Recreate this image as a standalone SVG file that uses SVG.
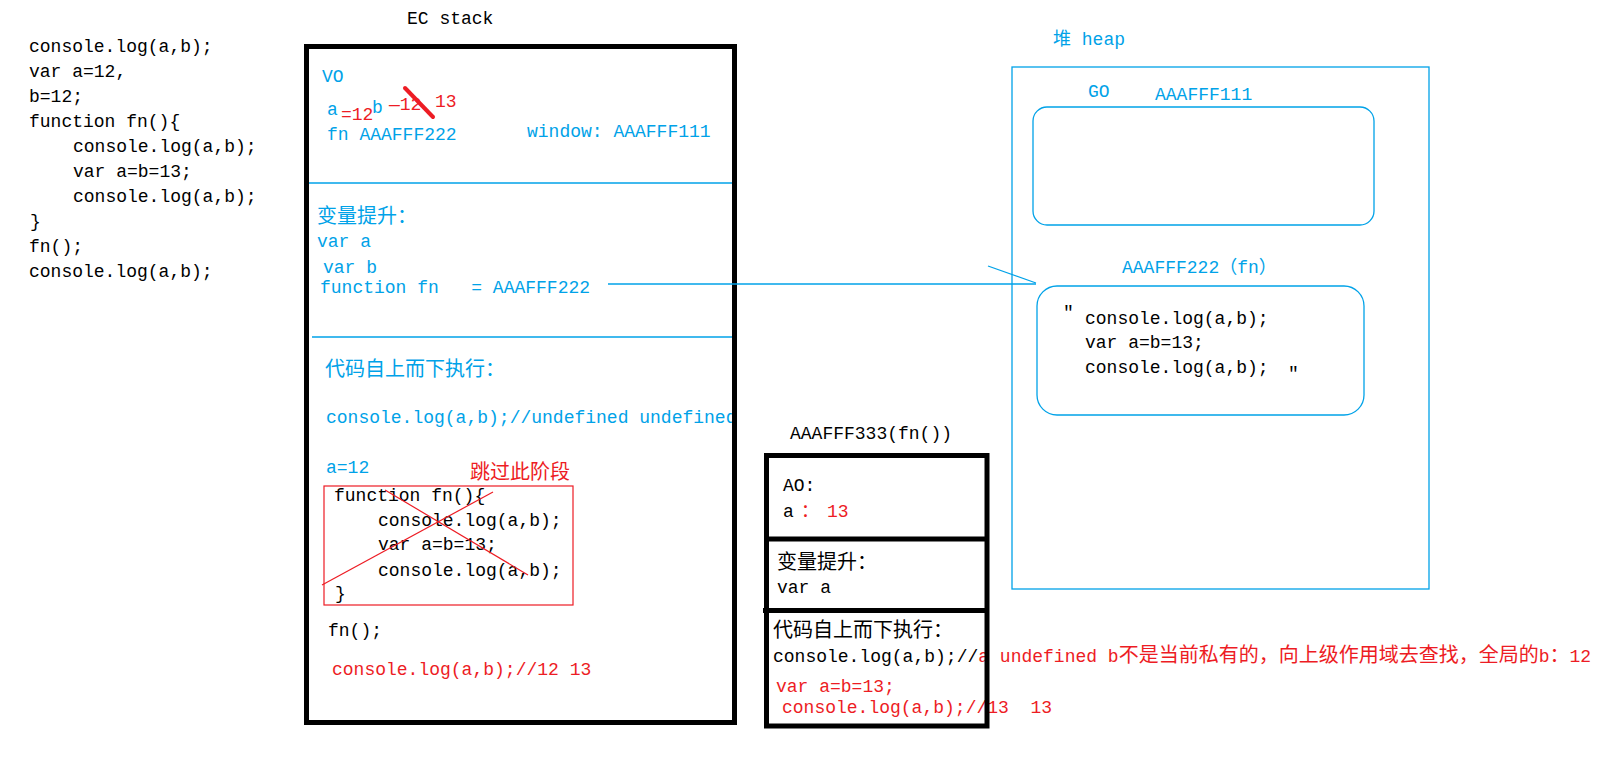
<svg xmlns="http://www.w3.org/2000/svg" width="1605" height="764" viewBox="0 0 1605 764">
<style>
.t{font-family:"Liberation Mono","Noto Sans CJK SC",monospace;font-size:18px}
.c{font-size:20px}
.c18{font-size:18px}
.b{fill:#00A2E8}
.r{fill:#ED1C24}
.k{fill:#000}
.box{fill:none;stroke:#000;stroke-width:5}
.bl{fill:none;stroke:#00A2E8;stroke-width:1.3}
.rl{fill:none;stroke:#ED1C24;stroke-width:1.2}
</style>
<rect x="0" y="0" width="1605" height="764" fill="#fff"/>

<g id="source-code" class="t k">
<text x="29" y="52">console.log(a,b);</text>
<text x="29" y="77">var a=12,</text>
<text x="29" y="102">b=12;</text>
<text x="29" y="127">function fn(){</text>
<text x="73" y="152">console.log(a,b);</text>
<text x="73" y="177">var a=b=13;</text>
<text x="73" y="202">console.log(a,b);</text>
<text x="30" y="227">}</text>
<text x="29" y="252">fn();</text>
<text x="29" y="277">console.log(a,b);</text>
</g>

<g id="ec-stack">
<text class="t k" x="407" y="24">EC stack</text>
<g id="vo-section" class="t">
<text class="b" x="322" y="82">VO</text>
<text class="b" x="327" y="115">a</text>
<text class="r" x="341" y="120">=12</text>
<text class="b" x="372" y="113">b</text>
<text class="r" x="389" y="110">—12</text>
<line x1="405" y1="88" x2="433" y2="117" stroke="#ED1C24" stroke-width="4" stroke-linecap="round"/>
<text class="r" x="435" y="107">13</text>
<text class="b" x="327" y="140">fn AAAFFF222</text>
<text class="b" x="527" y="137">window: AAAFFF111</text>
</g>
<line class="bl" x1="309" y1="183" x2="734" y2="183"/>
<g id="hoist-section" class="t b">
<text class="c" x="317" y="223">变量提升：</text>
<text x="317" y="247">var a</text>
<text x="323" y="273">var b</text>
<text x="320" y="293" xml:space="preserve">function fn   = AAAFFF222</text>
</g>
<line class="bl" x1="312" y1="337" x2="734" y2="337"/>
<g id="exec-section" class="t">
<text class="b c" x="325" y="376">代码自上而下执行：</text>
<text class="b" x="326" y="423">console.log(a,b);//undefined undefined</text>
<text class="b" x="326" y="473">a=12</text>
<text class="r c" x="470" y="479">跳过此阶段</text>
<rect class="rl" x="324" y="486" width="249" height="119"/>
<text class="k" x="334" y="501">function fn(){</text>
<text class="k" x="378" y="526">console.log(a,b);</text>
<text class="k" x="378" y="550">var a=b=13;</text>
<text class="k" x="378" y="576">console.log(a,b);</text>
<text class="k" x="335" y="599">}</text>
<line class="rl" x1="385" y1="490" x2="528" y2="575"/>
<line class="rl" x1="322" y1="585" x2="493" y2="492"/>
<text class="k" x="328" y="636">fn();</text>
<text class="r" x="332" y="675">console.log(a,b);//12 13</text>
</g>
<rect class="box" x="306.5" y="46.5" width="428" height="676"/>
</g>

<g id="ao-box">
<text class="t k" x="790" y="439">AAAFFF333(fn())</text>
<g class="t">
<text class="k" x="783" y="491">AO:</text>
<text class="k" x="783" y="517">a</text>
<text class="r" x="801" y="517">：</text>
<text class="r" x="827" y="517">13</text>
<text class="k c" x="777" y="569">变量提升：</text>
<text class="k" x="777" y="593">var a</text>
<text class="k c" x="773" y="637">代码自上而下执行：</text>
<text class="k" x="773" y="662">console.log(a,b);//<tspan class="r">a undefined b<tspan class="c">不是当前私有的，向上级作用域去查找，全局的</tspan>b<tspan class="c">：</tspan>12</tspan></text>
<text class="r" x="776" y="692">var a=b=13;</text>
<text class="r" x="782" y="713" xml:space="preserve">console.log(a,b);//13  13</text>
</g>
<rect class="box" x="766.5" y="455.5" width="220.5" height="270.5"/>
<line x1="764" y1="539" x2="989" y2="539" stroke="#000" stroke-width="5"/>
<line x1="763" y1="610.5" x2="989" y2="610.5" stroke="#000" stroke-width="5"/>
</g>

<g id="heap">
<text class="t b" x="1053" y="45"><tspan class="c18">堆</tspan> heap</text>
<rect class="bl" x="1012" y="67" width="417" height="522"/>
<g id="go-object">
<text class="t b" x="1088" y="97">GO</text>
<text class="t b" x="1155" y="100">AAAFFF111</text>
<rect class="bl" x="1033" y="107" width="341" height="118" rx="14"/>
</g>
<g id="fn-object">
<text class="t b" x="1122" y="273">AAAFFF222<tspan class="c18">（</tspan>fn<tspan class="c18">）</tspan></text>
<rect class="bl" x="1037" y="286" width="327" height="129" rx="20"/>
<text class="t k" x="1063" y="318">″</text>
<text class="t k" x="1085" y="324">console.log(a,b);</text>
<text class="t k" x="1085" y="348">var a=b=13;</text>
<text class="t k" x="1085" y="373">console.log(a,b);</text>
<text class="t k" x="1288" y="379">″</text>
</g>
</g>

<g id="connectors">
<line class="bl" x1="608" y1="284" x2="1036" y2="284"/>
<line class="bl" x1="988" y1="266" x2="1036" y2="283"/>
</g>
</svg>
